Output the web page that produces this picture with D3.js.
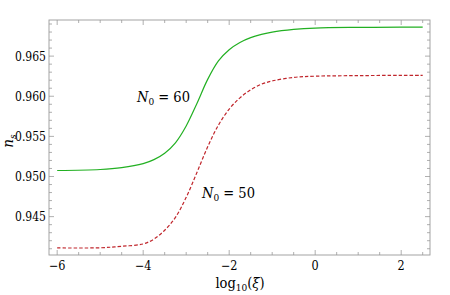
<!DOCTYPE html>
<html>
<head>
<meta charset="utf-8">
<script src="https://cdn.jsdelivr.net/npm/d3@7"></script>
<style>
  body { margin: 0; background: #fff; }
</style>
</head>
<body>
<script>
const width = 450;
const height = 295;

// log10(xi) sample points
const logXi = [-6, -5, -4.5, -4, -3.75, -3.5, -3.25, -3, -2.75, -2.5, -2.25, -2, -1.75, -1.5, -1.25, -1, -0.5, 0, 1, 2, 2.5];
// n_s for N0 = 60 (solid green)
const ns60 = [0.95075, 0.95087, 0.9511, 0.9516, 0.9521, 0.9529, 0.9542, 0.9563, 0.9591, 0.9621, 0.9644, 0.9658, 0.9667, 0.9673, 0.9677, 0.9680, 0.96833, 0.9685, 0.96858, 0.9686, 0.9686];
// n_s for N0 = 50 (dashed red)
const ns50 = [0.9411, 0.94112, 0.9413, 0.9416, 0.9422, 0.9433, 0.9449, 0.9474, 0.9505, 0.9537, 0.9564, 0.9584, 0.9598, 0.9608, 0.9615, 0.9619, 0.96235, 0.9625, 0.96257, 0.9626, 0.9626];

const xTicks = [-6, -4, -2, 0, 2];
const yTicks = [0.945, 0.950, 0.955, 0.960, 0.965];

const serif = "'DejaVu Serif Condensed', 'DejaVu Serif', serif";

const margin = {left: 49, right: 20, top: 20, bottom: 40};
const x0 = margin.left, x1 = width - margin.right;
const y0 = margin.top, y1 = height - margin.bottom;

const x = d3.scaleLinear().domain([-6.19, 2.67]).range([x0, x1]);
const y = d3.scaleLinear().domain([0.94022, 0.96950]).range([y1, y0]);

const svg = d3.select("body").append("svg")
  .attr("width", width)
  .attr("height", height)
  .attr("font-family", serif)
  .style("display", "block");

const frameColor = "#9a9a9a";

// minor ticks
const xMinor = d3.range(-6, 2.51, 0.5);
const yMinor = d3.range(0.941, 0.9695, 0.001);

const tickG = svg.append("g").attr("stroke", frameColor).attr("stroke-width", 0.8);

xMinor.forEach(v => {
  const major = Math.abs(v - Math.round(v / 2) * 2) < 1e-9;
  const len = major ? 5 : 3;
  tickG.append("line").attr("x1", x(v)).attr("x2", x(v)).attr("y1", y1).attr("y2", y1 - len);
  tickG.append("line").attr("x1", x(v)).attr("x2", x(v)).attr("y1", y0).attr("y2", y0 + len);
});

yMinor.forEach(v => {
  const major = Math.abs(v * 1000 / 5 - Math.round(v * 1000 / 5)) < 1e-6;
  const len = major ? 5 : 3;
  tickG.append("line").attr("x1", x0).attr("x2", x0 + len).attr("y1", y(v)).attr("y2", y(v));
  tickG.append("line").attr("x1", x1).attr("x2", x1 - len).attr("y1", y(v)).attr("y2", y(v));
});

// frame
svg.append("rect")
  .attr("x", x0).attr("y", y0)
  .attr("width", x1 - x0).attr("height", y1 - y0)
  .attr("fill", "none")
  .attr("stroke", frameColor)
  .attr("stroke-width", 0.9);

// tick labels
svg.append("g").selectAll("text")
  .data(xTicks)
  .enter()
  .append("text")
  .attr("x", d => x(d))
  .attr("y", y1 + 15)
  .attr("text-anchor", "middle")
  .attr("font-size", 12.5)
  .text(d => d < 0 ? "\u2212" + Math.abs(d) : d);

svg.append("g").selectAll("text")
  .data(yTicks)
  .enter()
  .append("text")
  .attr("x", x0 - 3)
  .attr("y", d => y(d) + 4.5)
  .attr("text-anchor", "end")
  .attr("font-size", 12.5)
  .attr("textLength", 31)
  .attr("lengthAdjust", "spacingAndGlyphs")
  .text(d => d3.format(".3f")(d));

// curves
const line = d3.line()
  .x(d => x(d[0]))
  .y(d => y(d[1]))
  .curve(d3.curveCatmullRom.alpha(0.5));

svg.append("path")
  .datum(logXi.map((v, i) => [v, ns60[i]]))
  .attr("d", line)
  .attr("fill", "none")
  .attr("stroke", "#22b022")
  .attr("stroke-width", 1.2);

svg.append("path")
  .datum(logXi.map((v, i) => [v, ns50[i]]))
  .attr("d", line)
  .attr("fill", "none")
  .attr("stroke", "#c0262c")
  .attr("stroke-width", 1.2)
  .attr("stroke-dasharray", "3.5,2");

// curve labels
function nLabel(px, py, val) {
  const t = svg.append("text")
    .attr("x", px).attr("y", py)
    .attr("font-size", 14.5);
  t.append("tspan").attr("font-style", "italic").text("N");
  t.append("tspan").attr("font-size", 10).attr("dy", 3).text("0");
  t.append("tspan").attr("dy", -3).text(" = " + val);
}
nLabel(137, 102, 60);
nLabel(202, 198, 50);

// axis titles
const xt = svg.append("text")
  .attr("x", 240).attr("y", 288)
  .attr("text-anchor", "middle")
  .attr("font-size", 14.5);
xt.append("tspan").text("log");
xt.append("tspan").attr("font-size", 10).attr("dy", 3).text("10");
xt.append("tspan").attr("dy", -3).text("(");
xt.append("tspan").attr("font-style", "italic").text("\u03BE");
xt.append("tspan").text(")");

const yt = svg.append("text")
  .attr("transform", "translate(13,141) rotate(-90)")
  .attr("text-anchor", "middle")
  .attr("font-size", 15);
yt.append("tspan").attr("font-style", "italic").text("n");
yt.append("tspan").attr("font-style", "italic").attr("font-size", 10).attr("dy", 3).text("s");
</script>
</body>
</html>
